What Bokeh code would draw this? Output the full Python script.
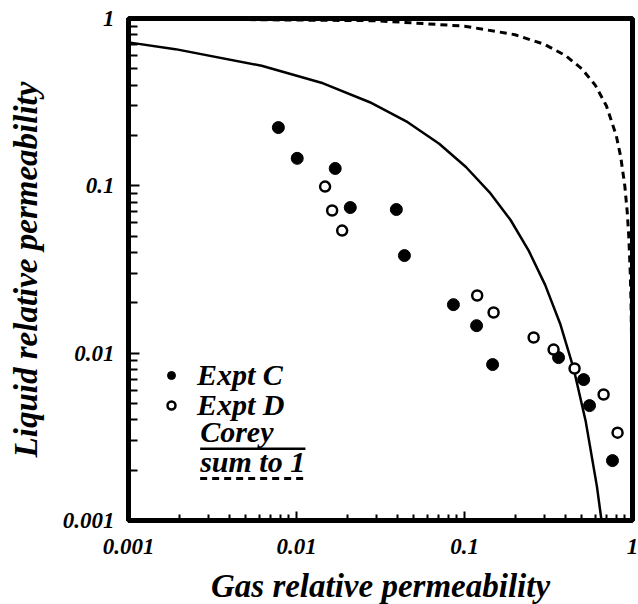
from bokeh.plotting import figure
from bokeh.models import FixedTicker, Legend, LegendItem, Label, Arrow
from bokeh.embed import file_html
from bokeh.resources import INLINE

# --- data ---
expt_c_x = [0.0078, 0.0101, 0.0170, 0.0209, 0.0393, 0.0439, 0.0859, 0.118, 0.147, 0.363, 0.512, 0.555, 0.760]
expt_c_y = [0.223, 0.146, 0.127, 0.0742, 0.0722, 0.0383, 0.0195, 0.0146, 0.00855, 0.00941, 0.00695, 0.00486, 0.00228]

expt_d_x = [0.0148, 0.0163, 0.0187, 0.119, 0.149, 0.258, 0.339, 0.452, 0.673, 0.815]
expt_d_y = [0.099, 0.0712, 0.054, 0.0221, 0.0175, 0.0124, 0.0105, 0.0081, 0.00566, 0.00335]

corey_x = [0.001, 0.0019, 0.0062, 0.0144, 0.0273, 0.0459, 0.0707, 0.102, 0.141, 0.188, 0.241, 0.302, 0.371, 0.446, 0.527, 0.614, 0.654]
corey_y = [0.72, 0.656, 0.522, 0.41, 0.316, 0.240, 0.1785, 0.1296, 0.0915, 0.0625, 0.041, 0.0256, 0.015, 0.0081, 0.0039, 0.0016, 0.001]

sum1_x = [0.001, 0.03, 0.1, 0.2, 0.3, 0.4, 0.5, 0.6, 0.7, 0.8, 0.85, 0.9, 0.93, 0.95, 0.97, 0.98, 0.99, 0.995, 0.999]
sum1_y = [0.999, 0.97, 0.9, 0.8, 0.7, 0.6, 0.5, 0.4, 0.3, 0.2, 0.15, 0.1, 0.07, 0.05, 0.03, 0.02, 0.01, 0.005, 0.001]

tick_values = [0.001, 0.01, 0.1, 1]
tick_labels = ["0.001", "0.01", "0.1", "1"]

legend_labels = ["Expt C", "Expt D", "Corey", "sum to 1"]

FONT = "Liberation Serif"

p = figure(x_axis_type="log", y_axis_type="log",
           x_range=(0.001, 1), y_range=(0.001, 1),
           frame_width=504, frame_height=502,
           min_border_left=128, min_border_right=6,
           min_border_top=18, min_border_bottom=82,
           output_backend="svg", toolbar_location=None,
           background_fill_color="white", border_fill_color="white")
p.grid.visible = False
p.outline_line_color = "black"
p.outline_line_width = 5

minor = [m * 10.0 ** e for e in (-3, -2, -1) for m in range(2, 10)]
overrides = {v: s for v, s in zip(tick_values, tick_labels)}

for ax in (p.xaxis[0], p.yaxis[0]):
    ax.ticker = FixedTicker(ticks=tick_values, minor_ticks=minor)
    ax.major_label_overrides = overrides
    ax.axis_line_width = 5
    ax.axis_line_color = "black"
    ax.major_tick_out = 0
    ax.minor_tick_out = 0
    ax.major_tick_line_width = 2
    ax.minor_tick_line_width = 2
    ax.major_label_text_font = FONT
    ax.major_label_text_font_style = "bold italic"
    ax.major_label_text_font_size = "23px"
    ax.major_label_text_color = "black"
    ax.axis_label_text_font = FONT
    ax.axis_label_text_font_style = "bold italic"
    ax.axis_label_text_font_size = "33px"
    ax.axis_label_text_color = "black"

p.xaxis.major_tick_in = 9
p.xaxis.minor_tick_in = 6
p.yaxis.major_tick_in = 11
p.yaxis.minor_tick_in = 9
p.xaxis.major_label_standoff = 18
p.yaxis.major_label_standoff = 14
p.xaxis.axis_label = "Gas relative permeability"
p.yaxis.axis_label = "Liquid relative permeability"
p.xaxis.axis_label_standoff = 11
p.yaxis.axis_label_standoff = 16

p.line(corey_x, corey_y, line_color="black", line_width=2.5)
p.line(sum1_x, sum1_y, line_color="black", line_width=3, line_dash="7 5")

rc = p.scatter(expt_c_x, expt_c_y, marker="circle", size=12,
               fill_color="black", line_color="black", line_width=1)
rd = p.scatter(expt_d_x, expt_d_y, marker="circle", size=10,
               fill_color="white", line_color="black", line_width=2.5)

legend_style = dict(padding=0, margin=0, spacing=0,
                    glyph_width=20, glyph_height=24, label_height=24,
                    label_standoff=16,
                    border_line_color=None, background_fill_alpha=0,
                    label_text_font=FONT, label_text_font_style="bold italic",
                    label_text_font_size="30px", label_text_color="black")
legend_c = Legend(items=[LegendItem(label=legend_labels[0], renderers=[rc])],
                  location=(33, 128), **legend_style)
legend_d = Legend(items=[LegendItem(label=legend_labels[1], renderers=[rd])],
                  location=(33, 98), **legend_style)
p.add_layout(legend_c)
p.add_layout(legend_d)

p.add_layout(Label(x=0.00267, y=0.0034, text=legend_labels[2],
                   text_font=FONT, text_font_style="bold italic",
                   text_font_size="30px", text_baseline="middle",
                   text_color="black"))
p.add_layout(Label(x=0.00267, y=0.00225, text=legend_labels[3],
                   text_font=FONT, text_font_style="bold italic",
                   text_font_size="30px", text_baseline="middle",
                   text_color="black"))
p.add_layout(Arrow(end=None, x_start=0.00267, y_start=0.00268,
                   x_end=0.0113, y_end=0.00268,
                   line_color="black", line_width=2.5))
p.add_layout(Arrow(end=None, x_start=0.00267, y_start=0.00178,
                   x_end=0.0113, y_end=0.00178,
                   line_color="black", line_width=3, line_dash="7 5"))

open("out.html", "w").write(file_html(p, INLINE))
